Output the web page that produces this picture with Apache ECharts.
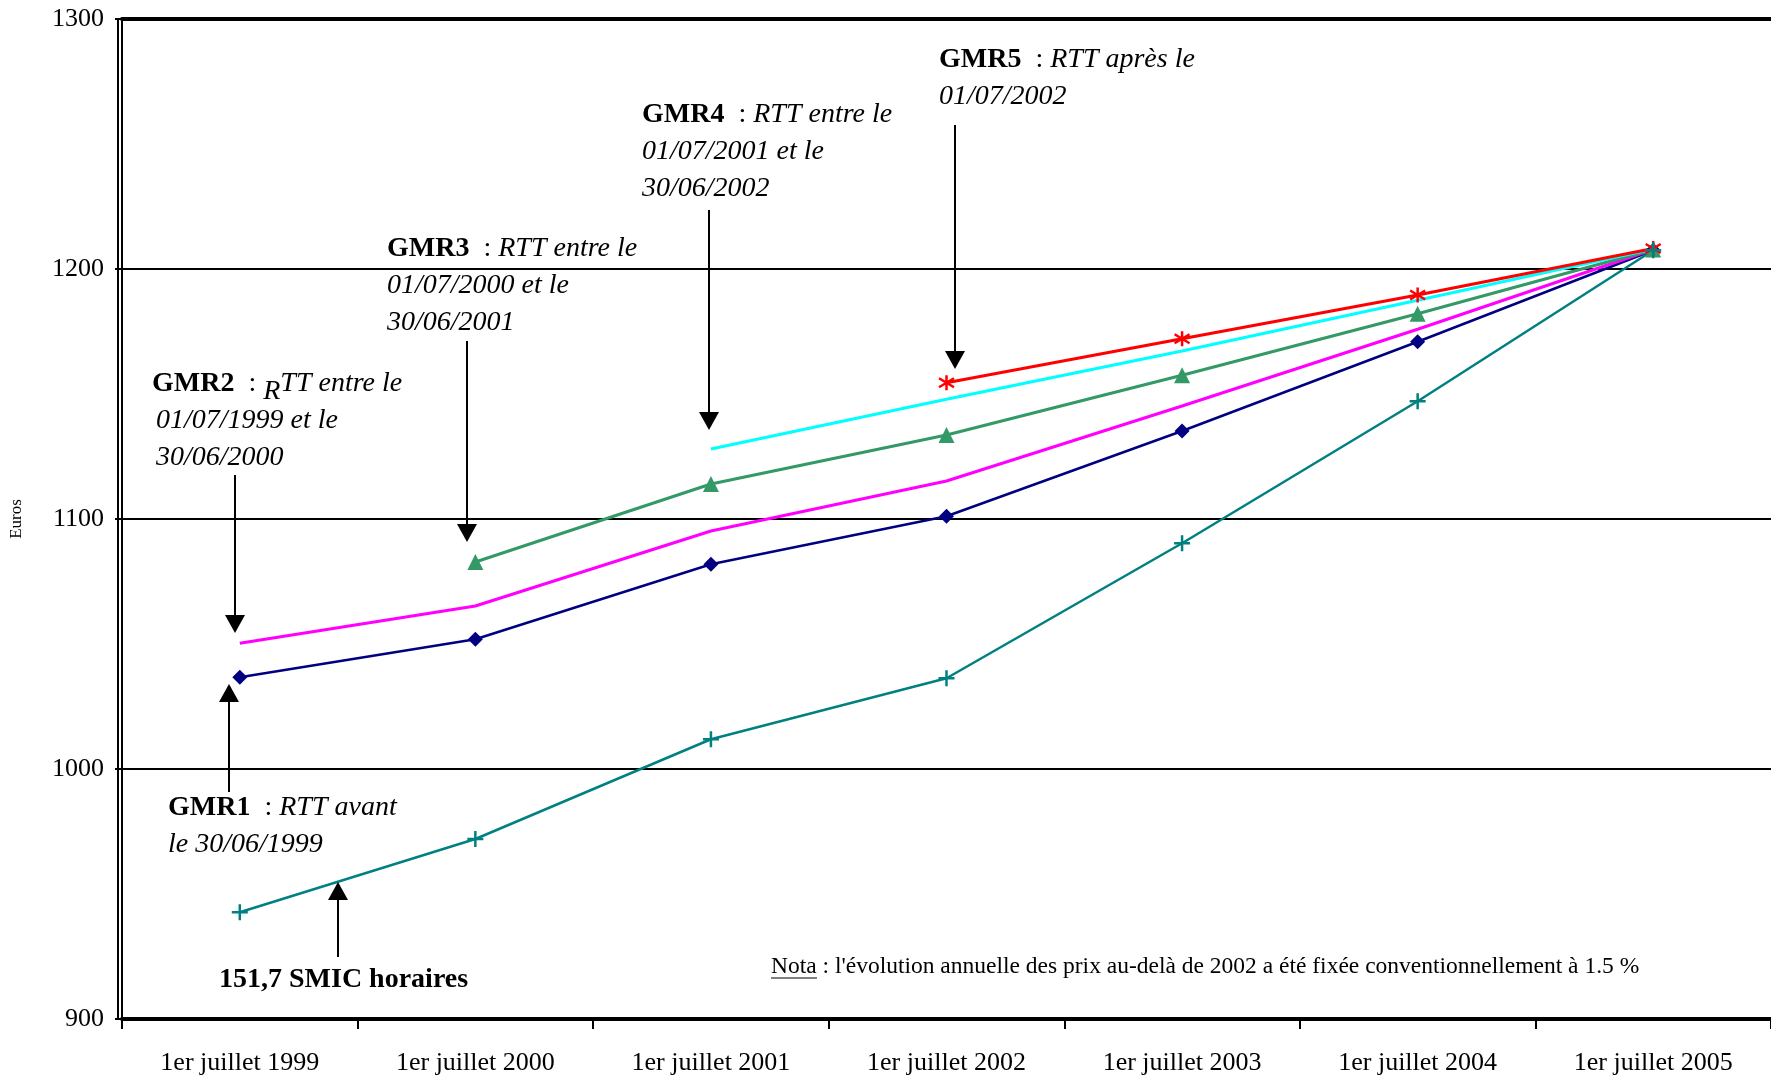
<!DOCTYPE html>
<html><head><meta charset="utf-8">
<script src="https://cdn.jsdelivr.net/npm/echarts@6/dist/echarts.min.js"></script>
<style>html,body{margin:0;padding:0;background:#fff}#c{width:1771px;height:1082px}</style>
</head><body><div id="c"></div>
<script>
const categories = ['1er juillet 1999','1er juillet 2000','1er juillet 2001','1er juillet 2002','1er juillet 2003','1er juillet 2004','1er juillet 2005'];
const smic = [942.7, 972.0, 1011.9, 1036.3, 1090.3, 1147.1, 1207.5];
const gmr1 = [1036.7, 1051.9, 1081.9, 1101.1, 1135.2, 1170.9, 1207.5];
const gmr2 = [1050.3, 1065.2, 1095.2, 1115.2, 1145.2, 1175.9, 1207.8];
const gmr3 = [null, 1082.8, 1114.0, 1133.6, 1157.5, 1182.1, 1207.8];
const gmr4 = [null, null, 1128.0, 1147.9, 1167.2, 1187.5, 1208.0];
const gmr5 = [null, null, null, 1154.5, 1172.1, 1189.6, 1208.2];
const yMin = 900, yMax = 1300, yStep = 100;

const FONT = '"Liberation Serif","Times New Roman",serif';
const chart = echarts.init(document.getElementById('c'), null, {renderer:'canvas'});

const rich = {
  b: {fontFamily: FONT, fontSize: 28, fontWeight: 'bold', lineHeight: 37, color:'#000'},
  i: {fontFamily: FONT, fontSize: 28, fontStyle: 'italic', lineHeight: 37, color:'#000'},
  n: {fontFamily: FONT, fontSize: 28, lineHeight: 37, color:'#000'},
  r: {fontFamily: FONT, fontSize: 28, fontStyle: 'italic', lineHeight: 37, padding:[16,0,0,0], color:'#000'}
};
function note(x, top, text) {
  return {type:'text', x:x, y:top, z:100, style:{text:text, rich:rich, fontFamily:FONT, fontSize:28, lineHeight:37, fill:'#000', verticalAlign:'top', align:'left'}};
}
function arrow(x, y1, y2) {
  const d = y2 > y1 ? 1 : -1, hl = 18, hw = 10;
  return [
    {type:'line', z:100, shape:{x1:x, y1:y1, x2:x, y2:y2 - d*hl}, style:{stroke:'#000', lineWidth:2}},
    {type:'polygon', z:100, shape:{points:[[x-hw, y2-d*hl],[x+hw, y2-d*hl],[x, y2]]}, style:{fill:'#000'}}
  ];
}

const plusPath = 'path://M10,0 L10,20 M0,10 L20,10';
const starPath = 'path://M10,0 L10,20 M2,4 L18,16 M18,4 L2,16';

function lineSeries(name, data, color, width, symbol, size, stroked) {
  return {
    name, type:'line', data, connectNulls:false, animation:false,
    symbol: symbol || 'none', symbolSize: size || 0, showSymbol: !!symbol,
    lineStyle:{color, width},
    itemStyle: stroked ? {color:'rgba(0,0,0,0)', borderColor: color, borderWidth: 2.5} : {color, borderColor: color, borderWidth: 0},
    emphasis:{disabled:true}
  };
}

const graphic = [].concat(
  note(939, 41.5, '{b|GMR5}  {n|:} {i|RTT après le}\n{i|01/07/2002}'),
  note(642, 96.5, '{b|GMR4}  {n|:} {i|RTT entre le}\n{i|01/07/2001 et le}\n{i|30/06/2002}'),
  note(387, 230.5, '{b|GMR3}  {n|:} {i|RTT entre le}\n{i|01/07/2000 et le}\n{i|30/06/2001}'),
  note(152, 365.5, '{b|GMR2}  {n|:} {r|R}{i|TT entre le}'),
  note(156, 402.5, '{i|01/07/1999 et le}\n{i|30/06/2000}'),
  note(168, 789.5, '{b|GMR1}  {n|:} {i|RTT avant}\n{i|le 30/06/1999}'),
  {type:'text', x:219, y:980, z:100, style:{text:'151,7 SMIC horaires', font:'bold 28px ' + FONT, fill:'#000', verticalAlign:'middle'}},
  {type:'text', x:771, y:967, z:100, style:{text:"Nota : l'évolution annuelle des prix au-delà de 2002 a été fixée conventionnellement à 1.5 %", font:'23.5px ' + FONT, fill:'#000', verticalAlign:'middle'}},
  {type:'line', z:100, shape:{x1:771, y1:978, x2:817, y2:978}, style:{stroke:'#000', lineWidth:1}},
  arrow(955, 125, 369),
  arrow(709, 210, 430),
  arrow(467, 341, 542),
  arrow(235, 475, 633),
  arrow(229, 792, 684),
  arrow(338, 957, 882)
);

chart.setOption({
  backgroundColor:'#fff',
  animation:false,
  grid:{left:120, right:-8, top:19, bottom:63, containLabel:false},
  xAxis:[{
    type:'category', data:categories, boundaryGap:true, position:'bottom',
    axisLine:{show:true, lineStyle:{color:'#000', width:4}},
    axisTick:{show:true, interval:0, length:10, inside:false, lineStyle:{color:'#000', width:2}},
    axisLabel:{interval:0, margin:31, color:'#000', fontFamily:FONT, fontSize:26},
    splitLine:{show:false}
  },{
    type:'category', data:categories, position:'top',
    axisLine:{show:true, lineStyle:{color:'#000', width:4}},
    axisTick:{show:false}, axisLabel:{show:false}, splitLine:{show:false}
  }],
  yAxis:[{
    type:'value', min:yMin, max:yMax, interval:yStep, position:'left',
    name:'Euros', nameLocation:'middle', nameRotate:90, nameGap:97,
    nameTextStyle:{color:'#000', fontFamily:FONT, fontSize:17},
    axisLine:{show:true, lineStyle:{color:'#000', width:2}},
    axisTick:{show:true, length:7, lineStyle:{color:'#000', width:2}},
    axisLabel:{margin:18, color:'#000', fontFamily:FONT, fontSize:26, formatter: v => String(v)},
    splitLine:{show:true, lineStyle:{color:'#000', width:2}}
  },{
    type:'value', min:yMin, max:yMax, interval:yStep, position:'left', offset:4,
    axisLine:{show:true, lineStyle:{color:'#000', width:2}},
    axisTick:{show:false}, axisLabel:{show:false}, splitLine:{show:false}
  }],
  series:[
    lineSeries('GMR1', gmr1, '#000080', 2.5, 'diamond', 15),
    lineSeries('GMR2', gmr2, '#FF00FF', 3),
    lineSeries('GMR3', gmr3, '#339966', 3, 'triangle', 16),
    lineSeries('GMR4', gmr4, '#00FFFF', 3),
    lineSeries('GMR5', gmr5, '#FF0000', 3, starPath, 15, true),
    lineSeries('SMIC', smic, '#008080', 2.5, plusPath, 16, true)
  ],
  graphic: graphic
});
</script>
</body></html>
